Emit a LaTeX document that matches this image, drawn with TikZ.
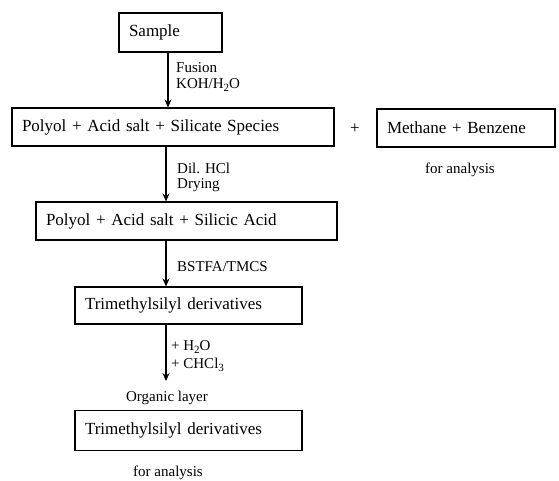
\documentclass[tikz,border=0pt]{standalone}
\usepackage{fontspec}
\setmainfont{Liberation Serif}
\usetikzlibrary{arrows.meta}
\tikzset{
  box/.style={draw, line width=1.1pt, rectangle, inner xsep=10pt, inner ysep=0pt, align=left,
    font=\fontsize{17}{20}\selectfont, anchor=center},
  lbl/.style={inner sep=0pt, font=\fontsize{15}{18}\selectfont},
  arr/.style={line width=1.1pt, -{Stealth[length=8pt,width=7pt]}}
}
\newcommand{\sbs}[1]{\raisebox{-0.45ex}{\fontsize{11}{12}\selectfont #1}}
\begin{document}
\begin{tikzpicture}[x=1pt,y=-1pt]
\useasboundingbox (0,0) rectangle (559,480);
% boxes
\node[box, minimum width=103pt, minimum height=39pt, text width=83pt] (sample) at (170.5,32.5) {Sample};
\node[box, minimum width=322pt, minimum height=38pt, text width=302pt] (poly1) at (173,127) {Polyol + Acid salt + Silicate Species};
\node[box, minimum width=178pt, minimum height=38pt, text width=158pt] (meth) at (466,128) {Methane + Benzene};
\node[lbl, font=\fontsize{17}{20}\selectfont] (plus) at (355,129) {+};
\node[lbl] (fa1) at (460,170) {for analysis};
\node[box, minimum width=301pt, minimum height=38pt, text width=281pt] (poly2) at (186.5,221) {Polyol + Acid salt + Silicic Acid};
\node[box, minimum width=227pt, minimum height=37pt, text width=207pt] (tms1) at (188.5,305.5) {Trimethylsilyl derivatives};
\node[lbl] (org) at (167,398) {Organic layer};
\node[box, minimum width=227pt, minimum height=40pt, text width=207pt] (tms2) at (188.5,430.5) {Trimethylsilyl derivatives};
\node[lbl] (fa2) at (168,473) {for analysis};
% axes for the vertical arrows
\coordinate (ax1) at (168,0);
\coordinate (ax2) at (166,0);
\coordinate (orgend) at (166,381);
% arrows
\draw[arr] (sample.south -| ax1) -- (poly1.north -| ax1);
\draw[arr] (poly1.south -| ax2) -- (poly2.north -| ax2);
\draw[arr] (poly2.south -| ax2) -- (tms1.north -| ax2);
\draw[arr] (tms1.south -| ax2) -- (orgend);
% step labels
\node[lbl, anchor=west] (l1a) at (176,68) {Fusion};
\node[lbl, anchor=west] (l1b) at (176,85) {KOH/H\sbs{2}O};
\node[lbl, anchor=west] (l2a) at (177,168) {Dil. HCl};
\node[lbl, anchor=west] (l2b) at (177,185) {Drying};
\node[lbl, anchor=west] (l3) at (177,267) {BSTFA/TMCS};
\node[lbl, anchor=west] (l4a) at (171,347) {+ H\sbs{2}O};
\node[lbl, anchor=west] (l4b) at (171,365) {+ CHCl\sbs{3}};
\end{tikzpicture}
\end{document}
